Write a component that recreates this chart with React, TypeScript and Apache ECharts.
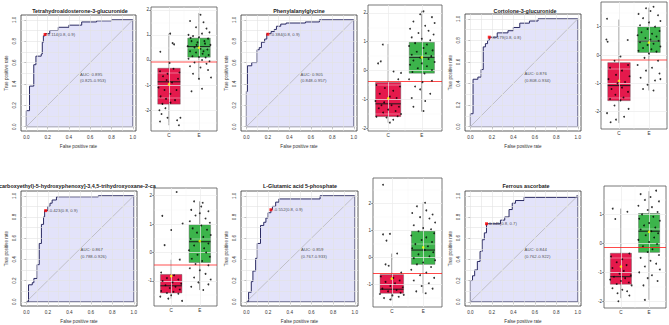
import React, { useEffect, useRef } from "react";
import * as echarts from "echarts";

// ---------------- DATA ----------------
const rocTitles = [
  "Tetrahydroaldosterone-3-glucuronide",
  "Phenylalanylglycine",
  "Cortolone-3-glucuronide",
  "carboxyethyl)-5-hydroxyphenoxy]-3,4,5-trihydroxyoxane-2-ca",
  "L-Glutamic acid 5-phosphate",
  "Ferrous ascorbate",
];

const roc1 = [[0,0],[0,0.15],[0.03,0.15],[0.03,0.38],[0.07,0.38],[0.07,0.58],[0.09,0.58],[0.09,0.66],[0.14,0.66],[0.14,0.68],[0.15,0.68],[0.15,0.79],[0.16,0.79],[0.16,0.85],[0.176,0.85],[0.176,0.87],[0.22,0.87],[0.22,0.9],[0.3,0.9],[0.3,0.93],[0.4,0.93],[0.4,0.95],[0.52,0.95],[0.52,0.98],[0.66,0.98],[0.66,0.99],[0.8,0.99],[0.8,1],[1,1]];
const roc2 = [[0,0],[0,0.33],[0.01,0.33],[0.01,0.57],[0.05,0.57],[0.05,0.6],[0.1,0.6],[0.1,0.72],[0.12,0.72],[0.12,0.74],[0.14,0.74],[0.14,0.79],[0.17,0.79],[0.17,0.82],[0.19,0.82],[0.19,0.87],[0.23,0.87],[0.23,0.89],[0.26,0.89],[0.26,0.91],[0.28,0.91],[0.28,0.94],[0.32,0.94],[0.32,0.96],[0.37,0.96],[0.37,0.97],[0.55,0.97],[0.55,0.98],[0.68,0.98],[0.68,1],[1,1]];
const roc3 = [[0,0],[0,0.12],[0.025,0.12],[0.025,0.44],[0.07,0.44],[0.07,0.46],[0.1,0.46],[0.1,0.53],[0.12,0.53],[0.12,0.74],[0.14,0.74],[0.14,0.77],[0.16,0.77],[0.16,0.8],[0.176,0.8],[0.176,0.83],[0.25,0.83],[0.25,0.87],[0.35,0.87],[0.35,0.89],[0.4,0.89],[0.4,0.92],[0.46,0.92],[0.46,0.96],[0.55,0.96],[0.55,0.98],[0.63,0.98],[0.63,1],[1,1]];
const roc4 = [[0,0],[0.02,0],[0.02,0.16],[0.055,0.16],[0.055,0.18],[0.07,0.18],[0.07,0.22],[0.1,0.22],[0.1,0.35],[0.12,0.35],[0.12,0.55],[0.14,0.55],[0.14,0.73],[0.16,0.73],[0.16,0.8],[0.17,0.8],[0.17,0.86],[0.2,0.86],[0.2,0.9],[0.22,0.9],[0.22,0.93],[0.24,0.93],[0.24,0.96],[0.28,0.96],[0.28,0.99],[0.67,0.99],[0.67,1],[1,1]];
const roc5 = [[0,0],[0.02,0],[0.02,0.09],[0.045,0.09],[0.045,0.19],[0.06,0.19],[0.06,0.29],[0.085,0.29],[0.085,0.41],[0.1,0.41],[0.1,0.55],[0.13,0.55],[0.13,0.72],[0.16,0.72],[0.16,0.75],[0.18,0.75],[0.18,0.79],[0.2,0.79],[0.2,0.84],[0.226,0.84],[0.226,0.87],[0.24,0.87],[0.24,0.9],[0.27,0.9],[0.27,0.94],[0.3,0.94],[0.3,0.97],[0.68,0.97],[0.68,1],[1,1]];
const roc6 = [[0,0],[0,0.2],[0.02,0.2],[0.02,0.245],[0.04,0.245],[0.04,0.3],[0.065,0.3],[0.065,0.38],[0.09,0.38],[0.09,0.475],[0.11,0.475],[0.11,0.585],[0.13,0.585],[0.13,0.65],[0.15,0.65],[0.15,0.736],[0.28,0.736],[0.28,0.77],[0.32,0.77],[0.32,0.8],[0.36,0.8],[0.36,0.87],[0.39,0.87],[0.39,0.93],[0.42,0.93],[0.42,0.955],[0.5,0.955],[0.5,0.985],[0.99,0.985],[0.99,1],[1,1]];
const rocCurves = [roc1, roc2, roc3, roc4, roc5, roc6];

const cutoffPoints = [[0.176,0.863],[0.2,0.865],[0.176,0.83],[0.18,0.86],[0.226,0.868],[0.15,0.736]];
const cutoffLabels = ["0.114(0.8, 0.9)","-0.384(0.8, 0.9)","-0.179(0.8, 0.8)","-0.423(0.8, 0.9)","-0.552(0.8, 0.9)","0.045(0.8, 0.7)"];
const aucValues = ["0.895","0.905","0.876","0.867","0.859","0.844"];
const aucCIs = ["0.825-0.953","0.848-0.957","0.808-0.934","0.788-0.926","0.767-0.933","0.762-0.922"];

const rocTickValues = [0, 0.2, 0.4, 0.6, 0.8, 1.0];
const rocGridValues = [0, 0.1, 0.2, 0.3, 0.4, 0.5, 0.6, 0.7, 0.8, 0.9, 1.0];

const catLabels = ["C", "E"];
// [low whisker, q1, median, q3, high whisker]
const boxC = [
  [-2.6, -1.76, -0.87, -0.33, 1.05],
  [-1.8, -1.59, -1.15, -0.41, 0.92],
  [-2.4, -1.61, -1.08, -0.27, 1.25],
  [-1.62, -1.42, -1.17, -0.77, -0.25],
  [-1.58, -1.32, -1.17, -0.63, 0.15],
  [-1.89, -1.41, -1.15, -0.34, 1.2],
];
const boxE = [
  [-0.8, 0.11, 0.53, 0.87, 1.87],
  [-1.42, -0.09, 0.46, 0.98, 2.07],
  [-1.25, 0.09, 0.49, 0.99, 1.67],
  [-1.32, -0.35, 0.38, 0.98, 1.8],
  [-1.32, -0.25, 0.28, 0.98, 2.04],
  [-1.95, -0.31, 0.42, 1.03, 1.8],
];
const meanC = [-0.97, -0.96, -0.91, -0.83, -0.78, -0.8];
const meanE = [0.49, 0.46, 0.44, 0.4, 0.38, 0.4];
const thresholds = [-0.09, -0.36, -0.18, -0.42, -0.57, -0.13];
const bpYTicks = [[-2,-1,0,1,2],[-2,-1,0,1,2],[-2,-1,0,1],[-1,0,1,2],[-1,0,1,2],[-2,-1,0,1]];
const bpYMinor = [[-2.5,-1.5,-0.5,0.5,1.5],[-1.5,-0.5,0.5,1.5],[-2.5,-1.5,-0.5,0.5,1.5],[-1.5,-0.5,0.5,1.5],[-1.5,-0.5,0.5,1.5,2.5],[-1.5,-0.5,0.5,1.5]];

// jitter points: [offset from category, value]
const jitC1 = [[-0.29,0.33],[0.04,1.05],[0.12,0.67],[0.17,0.62],[0.02,-0.12],[-0.3,-0.45],[-0.2,-0.65],[-0.08,-0.8],[0.1,-0.9],[0.3,-0.75],[-0.35,-1.1],[-0.15,-1.2],[0.05,-1.35],[0.25,-1.2],[-0.28,-1.45],[-0.1,-1.55],[0.2,-1.6],[0.35,-0.5],[-0.22,-1.75],[0.05,-1.7],[-0.32,-2.0],[-0.12,-1.92],[-0.25,-2.15],[-0.3,-2.45],[-0.05,-2.3],[0.27,-2.4],[0.33,-2.6],[0.38,-2.3],[0.15,-0.35],[-0.05,-0.55]];
const jitE1 = [[-0.3,1.55],[0.05,1.8],[0.15,1.5],[-0.1,1.3],[0.25,1.25],[0.35,1.1],[-0.35,1.0],[-0.2,0.95],[0.0,0.9],[0.1,1.05],[0.3,0.85],[-0.25,0.75],[-0.05,0.7],[0.2,0.65],[0.38,0.6],[-0.38,0.55],[-0.15,0.5],[0.05,0.45],[0.28,0.42],[-0.3,0.35],[-0.1,0.3],[0.12,0.25],[0.32,0.2],[-0.22,0.15],[0.0,0.12],[0.22,0.1],[-0.35,0.05],[0.1,0.0],[0.35,-0.05],[-0.15,-0.1],[0.25,-0.15],[-0.3,-0.25],[0.05,-0.3],[0.3,-0.4],[-0.2,-0.55],[0.0,-0.75],[0.4,-0.7],[-0.25,-1.25],[0.1,-1.15],[0.18,0.75],[-0.08,0.6],[0.15,0.35],[-0.28,0.88]];
const jitC2 = [[-0.16,0.9],[-0.22,0.32],[-0.3,0.25],[0.16,-0.03],[0.38,-0.08],[0.3,-0.3],[-0.35,-0.5],[-0.1,-0.6],[0.15,-0.7],[0.35,-0.55],[-0.25,-0.8],[0.05,-0.9],[0.25,-0.95],[-0.38,-1.05],[-0.12,-1.1],[0.1,-1.2],[0.32,-1.25],[-0.28,-1.3],[0.0,-1.35],[0.22,-1.4],[-0.15,-1.45],[0.38,-1.5],[-0.35,-1.6],[-0.05,-1.62],[0.15,-1.7],[0.05,-1.8],[0.28,-1.58],[-0.2,-1.2]];
const jitE2 = [[0.05,2.05],[-0.05,1.95],[0.3,1.85],[-0.25,1.7],[0.38,1.65],[0.1,1.55],[-0.35,1.45],[0.2,1.38],[-0.1,1.3],[0.35,1.25],[-0.3,1.15],[0.0,1.1],[0.25,1.05],[-0.2,0.95],[0.15,0.9],[-0.38,0.85],[0.05,0.78],[0.32,0.7],[-0.15,0.65],[0.12,0.6],[-0.3,0.55],[0.28,0.5],[-0.05,0.45],[0.2,0.4],[-0.25,0.35],[0.38,0.3],[0.0,0.25],[-0.35,0.2],[0.15,0.15],[-0.12,0.08],[0.3,0.02],[-0.28,-0.05],[0.08,-0.1],[-0.38,-0.3],[0.02,-0.4],[0.3,-0.35],[-0.2,-0.55],[-0.05,-0.65],[0.25,-0.8],[-0.3,-0.95],[0.1,-1.05],[-0.25,-1.25],[0.05,-1.4]];
const jitC3 = [[-0.4,1.28],[-0.42,0.55],[-0.38,0.47],[0.29,0.53],[0.05,-0.05],[-0.15,-0.2],[0.3,-0.35],[-0.3,-0.45],[0.1,-0.55],[-0.1,-0.7],[0.35,-0.75],[-0.35,-0.85],[0.2,-0.95],[-0.05,-1.0],[0.1,-1.15],[-0.25,-1.2],[0.3,-1.3],[-0.12,-1.4],[0.15,-1.5],[-0.3,-1.55],[0.05,-1.6],[-0.15,-1.78],[0.32,-1.9],[-0.4,-2.05],[0.17,-2.18],[-0.1,-2.28],[-0.28,-2.37]];
const jitE3 = [[-0.1,1.65],[0.15,1.7],[0.05,1.55],[-0.35,1.45],[0.3,1.4],[-0.2,1.3],[0.38,1.2],[0.0,1.15],[-0.3,1.05],[0.2,1.0],[-0.05,0.92],[0.35,0.85],[-0.25,0.8],[0.1,0.75],[-0.38,0.7],[0.25,0.65],[-0.12,0.6],[0.05,0.55],[0.32,0.5],[-0.3,0.45],[0.15,0.4],[-0.05,0.35],[0.38,0.3],[-0.2,0.25],[0.08,0.2],[-0.35,0.15],[0.25,0.12],[0.0,0.05],[-0.15,-0.1],[0.3,-0.2],[-0.38,-0.35],[0.1,-0.45],[-0.1,-0.55],[0.35,-0.65],[-0.28,-0.8],[0.2,-0.9],[-0.05,-1.05],[0.38,-0.85],[-0.2,-1.2],[0.15,-1.25]];
const jitC4 = [[0.19,2.13],[-0.31,1.29],[0.0,0.79],[0.4,1.02],[-0.23,0.26],[0.3,-0.25],[-0.35,-0.7],[0.1,-0.8],[-0.15,-0.9],[0.25,-0.95],[-0.3,-1.0],[0.05,-1.05],[0.35,-1.1],[-0.2,-1.15],[0.15,-1.2],[-0.05,-1.25],[0.3,-1.3],[-0.35,-1.35],[0.08,-1.38],[-0.15,-1.42],[0.25,-1.45],[-0.38,-1.55],[-0.1,-1.62],[0.38,-1.7],[0.0,-1.5]];
const jitE4 = [[-0.2,1.8],[0.1,1.75],[0.05,1.62],[-0.3,1.5],[0.3,1.45],[0.0,1.38],[-0.15,1.3],[0.2,1.2],[-0.35,1.1],[0.35,1.05],[0.05,0.95],[-0.25,0.85],[0.25,0.8],[-0.1,0.7],[0.38,0.62],[0.12,0.55],[-0.32,0.48],[0.0,0.4],[0.3,0.32],[-0.2,0.25],[0.15,0.15],[-0.38,0.08],[0.22,0.0],[-0.08,-0.08],[0.35,-0.15],[-0.28,-0.22],[0.08,-0.3],[-0.15,-0.4],[0.3,-0.45],[-0.35,-0.55],[0.0,-0.62],[0.2,-0.75],[-0.2,-0.88],[0.38,-0.95],[-0.05,-1.05],[0.3,-1.12],[-0.3,-1.2],[0.12,-1.32]];
const jitC5 = [[-0.28,2.7],[-0.28,0.86],[-0.06,0.88],[-0.17,0.63],[0.17,0.15],[-0.2,-0.25],[-0.1,-0.3],[0.3,-0.55],[-0.35,-0.7],[0.05,-0.75],[0.25,-0.85],[-0.2,-0.9],[0.1,-0.95],[-0.05,-1.05],[0.35,-1.1],[-0.3,-1.15],[0.15,-1.2],[-0.12,-1.25],[0.28,-1.3],[-0.38,-1.35],[0.02,-1.4],[0.22,-1.45],[-0.25,-1.5],[-0.05,-1.55],[0.38,-1.38]];
const jitE5 = [[0.06,2.03],[-0.2,1.9],[-0.35,1.65],[0.1,1.75],[0.3,1.6],[-0.1,1.5],[0.2,1.45],[0.38,1.3],[-0.3,1.2],[0.0,1.1],[0.25,1.05],[-0.15,0.98],[0.35,0.9],[-0.38,0.82],[0.1,0.75],[-0.05,0.65],[0.28,0.58],[-0.25,0.5],[0.15,0.42],[-0.35,0.35],[0.05,0.28],[0.32,0.2],[-0.15,0.12],[0.2,0.05],[-0.3,-0.02],[0.38,-0.1],[0.0,-0.18],[-0.2,-0.25],[0.25,-0.35],[-0.38,-0.45],[0.1,-0.55],[-0.1,-0.65],[0.35,-0.75],[-0.3,-0.85],[0.18,-0.95],[-0.05,-1.05],[0.3,-1.15],[-0.22,-1.25],[0.08,-1.32]];
const jitC6 = [[-0.29,1.2],[-0.2,0.84],[0.23,1.09],[0.3,-0.35],[-0.35,-0.45],[0.05,-0.55],[-0.15,-0.65],[0.2,-0.75],[-0.3,-0.85],[0.1,-0.95],[-0.05,-1.05],[0.35,-1.1],[-0.25,-1.15],[0.15,-1.2],[-0.38,-1.25],[0.0,-1.3],[0.28,-1.35],[-0.15,-1.4],[0.38,-1.45],[-0.3,-1.55],[0.05,-1.6],[-0.12,-1.72],[0.22,-1.65],[-0.09,-2.0],[0.3,-1.8]];
const jitE6 = [[-0.3,1.7],[0.25,1.82],[0.05,1.6],[-0.15,1.5],[0.35,1.45],[-0.38,1.3],[0.1,1.25],[-0.05,1.15],[0.3,1.08],[-0.25,1.0],[0.15,0.92],[-0.35,0.85],[0.38,0.78],[0.0,0.7],[-0.18,0.62],[0.22,0.55],[-0.3,0.48],[0.08,0.42],[0.32,0.35],[-0.12,0.28],[0.18,0.2],[-0.38,0.12],[0.0,0.05],[0.28,-0.02],[-0.22,-0.1],[0.12,-0.2],[-0.05,-0.3],[0.35,-0.4],[-0.3,-0.5],[0.05,-0.6],[0.25,-0.7],[-0.15,-0.8],[0.38,-0.9],[-0.35,-1.0],[0.1,-1.1],[-0.05,-1.2],[0.3,-1.3],[-0.2,-1.45],[-0.15,-1.95]];
const jitterC = [jitC1, jitC2, jitC3, jitC4, jitC5, jitC6];
const jitterE = [jitE1, jitE2, jitE3, jitE4, jitE5, jitE6];

// ---------------- LAYOUT / STYLE ----------------
const W = 669, H = 325;
const FONT = "Liberation Sans, Arial, sans-serif";
const rocFrames = [
  { left: 21, top: 15, width: 115, height: 116 },
  { left: 241, top: 15, width: 116, height: 116 },
  { left: 465, top: 14, width: 116, height: 117 },
  { left: 21, top: 191, width: 116, height: 116 },
  { left: 241, top: 191, width: 117, height: 116 },
  { left: 465, top: 191, width: 116, height: 116 },
];
const titleAnchors = [
  { x: 80, y: 10.5, align: "center" },
  { x: 299, y: 10.5, align: "center" },
  { x: 525, y: 10.5, align: "center" },
  { x: -1, y: 186, align: "left" },
  { x: 300, y: 186, align: "center" },
  { x: 526, y: 186, align: "center" },
];
const bpFrames = [
  { left: 151, top: 7, width: 66, height: 124 },
  { left: 368, top: 5, width: 74, height: 126 },
  { left: 601, top: 2, width: 66, height: 127 },
  { left: 154, top: 188, width: 63, height: 118 },
  { left: 373, top: 178, width: 69, height: 129 },
  { left: 604, top: 186, width: 62, height: 122 },
];
const bpYRange = [[-2.83, 2.11], [-2.09, 2.27], [-2.61, 1.87], [-1.88, 2.27], [-1.83, 2.95], [-2.23, 1.98]];
const thresholdStyles = [
  { color: "rgba(255,60,60,0.45)", width: 2 },
  { color: "#ff1a1a", width: 0.8 },
  { color: "rgba(255,60,60,0.45)", width: 2 },
  { color: "rgba(255,60,60,0.45)", width: 2 },
  { color: "#ff1a1a", width: 0.8 },
  { color: "#ff1a1a", width: 0.8 },
];
const boxColors = ["#e5194c", "#3cb44b"];
const BOX_HALF = 0.375;

function buildOption() {
  const grid: any[] = [];
  const xAxis: any[] = [];
  const yAxis: any[] = [];
  const series: any[] = [];
  const graphic: any[] = [];
  const lblStyle = { fontSize: 4.6, color: "#333", fontFamily: FONT };

  for (let i = 0; i < 6; i++) {
    // ---------- ROC ----------
    let g = grid.length;
    grid.push({ ...rocFrames[i], show: true, borderColor: "#333", borderWidth: 0.8, backgroundColor: "#fff" });
    xAxis.push({
      type: "value", gridIndex: g, min: -0.05, max: 1.03,
      axisLine: { show: false }, splitLine: { show: false },
      axisTick: { show: true, customValues: rocTickValues, length: 2, lineStyle: { color: "#333", width: 0.6 } },
      axisLabel: { customValues: rocTickValues, formatter: (v: number) => v.toFixed(1), margin: 4, ...lblStyle },
      name: "False positive rate", nameLocation: "middle", nameGap: 13, nameTextStyle: { ...lblStyle },
    });
    yAxis.push({
      type: "value", gridIndex: g, min: -0.04, max: 1.045,
      axisLine: { show: false }, splitLine: { show: false },
      axisTick: { show: true, customValues: rocTickValues, length: 2, lineStyle: { color: "#333", width: 0.6 } },
      axisLabel: { customValues: rocTickValues, formatter: (v: number) => v.toFixed(1), rotate: 90, margin: 4, ...lblStyle },
      name: "True positive rate", nameLocation: "middle", nameGap: 12, nameTextStyle: { ...lblStyle },
    });
    const ax = { xAxisIndex: g, yAxisIndex: g };
    series.push({
      type: "line", ...ax, data: [], silent: true,
      markLine: {
        silent: true, symbol: "none", animation: false, label: { show: false },
        lineStyle: { color: "#e3e3e3", width: 0.6, type: "solid" },
        data: [...rocGridValues.map((v) => ({ xAxis: v })), ...rocGridValues.map((v) => ({ yAxis: v }))],
      },
    });
    series.push({
      type: "line", ...ax, data: rocCurves[i], symbol: "none", silent: true, z: 3,
      lineStyle: { color: "#2b2b63", width: 1 },
      areaStyle: { color: "rgba(150,150,235,0.38)" },
    });
    series.push({
      type: "line", ...ax, data: [[0, 0], [1, 1]], symbol: "none", silent: true, z: 4,
      lineStyle: { color: "#b0b0b0", width: 0.7 },
    });
    series.push({
      type: "line", ...ax, data: [[0, 0], [1, 0], [1, 1]], symbol: "none", silent: true, z: 4,
      lineStyle: { color: "#55557a", width: 0.9 },
    });
    series.push({
      type: "scatter", ...ax, data: [cutoffPoints[i]], symbol: "rect", symbolSize: 3, silent: true, z: 6,
      itemStyle: { color: "#ff0000" },
      label: { show: true, position: "right", distance: 1, formatter: cutoffLabels[i], fontSize: 4.3, color: "#222", fontFamily: FONT },
    });
    series.push({
      type: "scatter", ...ax, data: [[0.5, 0.46]], symbolSize: 1, silent: true, z: 6,
      itemStyle: { color: "rgba(0,0,0,0)" },
      label: {
        show: true, position: "right", distance: 0, align: "left",
        formatter: `AUC: ${aucValues[i]}\n(${aucCIs[i]})`, fontSize: 4.3, lineHeight: 6.2, color: "#222", fontFamily: FONT,
      },
    });
    const ta = titleAnchors[i];
    graphic.push({
      type: "text", x: ta.x, y: ta.y, silent: true,
      style: { text: rocTitles[i], align: ta.align, verticalAlign: "middle", fontSize: 5.4, fontWeight: "bold", fontFamily: FONT, fill: "#222" },
    });

    // ---------- BOXPLOT ----------
    g = grid.length;
    grid.push({ ...bpFrames[i], show: true, borderColor: "#555", borderWidth: 0.8, backgroundColor: "#fff" });
    xAxis.push({
      type: "value", gridIndex: g, min: 0.4, max: 2.6,
      axisLine: { show: false }, splitLine: { show: false },
      axisTick: { show: true, customValues: [1, 2], length: 2, lineStyle: { color: "#444", width: 0.5 } },
      axisLabel: { customValues: [1, 2], formatter: (v: number) => catLabels[Math.round(v) - 1], margin: 2, ...lblStyle },
    });
    yAxis.push({
      type: "value", gridIndex: g, min: bpYRange[i][0], max: bpYRange[i][1],
      axisLine: { show: false }, splitLine: { show: false },
      axisTick: { show: true, customValues: bpYTicks[i], length: 2, lineStyle: { color: "#444", width: 0.5 } },
      axisLabel: { customValues: bpYTicks[i], formatter: (v: number) => String(v), margin: 2, ...lblStyle },
    });
    const bx = { xAxisIndex: g, yAxisIndex: g };
    series.push({
      type: "line", ...bx, data: [], silent: true,
      markLine: {
        silent: true, symbol: "none", animation: false, label: { show: false },
        lineStyle: { color: "#ebebeb", width: 0.7, type: "solid" },
        data: [
          { xAxis: 1 }, { xAxis: 2 },
          ...bpYTicks[i].map((v) => ({ yAxis: v })),
          { xAxis: 1.5, lineStyle: { color: "#f2f2f2", width: 0.4, type: "solid" } },
          ...bpYMinor[i].map((v) => ({ yAxis: v, lineStyle: { color: "#f2f2f2", width: 0.4, type: "solid" } })),
        ],
      },
    });
    series.push({
      type: "custom", ...bx, silent: true, z: 3,
      encode: { x: 0, y: [1, 2, 3, 4, 5] },
      data: [[1, ...boxC[i]], [2, ...boxE[i]]],
      renderItem: (params: any, api: any) => {
        const x = api.value(0);
        const lo = api.coord([x, api.value(1)]);
        const q1 = api.coord([x, api.value(2)]);
        const md = api.coord([x, api.value(3)]);
        const q3 = api.coord([x, api.value(4)]);
        const hi = api.coord([x, api.value(5)]);
        const l = api.coord([x - BOX_HALF, api.value(3)])[0];
        const r = api.coord([x + BOX_HALF, api.value(3)])[0];
        return {
          type: "group",
          children: [
            { type: "line", shape: { x1: lo[0], y1: lo[1], x2: hi[0], y2: hi[1] }, style: { stroke: "#7a7a7a", lineWidth: 0.9 } },
            { type: "rect", shape: { x: l, y: q3[1], width: r - l, height: q1[1] - q3[1] }, style: { fill: boxColors[params.dataIndex], stroke: "#555", lineWidth: 0.4 } },
            { type: "line", shape: { x1: l, y1: md[1], x2: r, y2: md[1] }, style: { stroke: "#1a1a1a", lineWidth: 1 } },
          ],
        };
      },
    });
    series.push({
      type: "line", ...bx, data: [], silent: true, z: 4,
      markLine: {
        silent: true, symbol: "none", animation: false, label: { show: false },
        lineStyle: { color: thresholdStyles[i].color, width: thresholdStyles[i].width, type: "solid" },
        data: [{ yAxis: thresholds[i] }],
      },
    });
    series.push({
      type: "scatter", ...bx, silent: true, z: 5, symbolSize: 1.8,
      itemStyle: { color: "#000" },
      data: jitterC[i].map(([o, v]) => [1 + o, v]),
    });
    series.push({
      type: "scatter", ...bx, silent: true, z: 5, symbolSize: 1.8,
      itemStyle: { color: "#000" },
      data: jitterE[i].map(([o, v]) => [2 + o, v]),
    });
    series.push({
      type: "scatter", ...bx, silent: true, z: 6, symbolSize: 2.6,
      itemStyle: { color: "#ffff00" },
      data: [[1, meanC[i]], [2, meanE[i]]],
    });
  }

  return {
    animation: false,
    backgroundColor: "#ffffff",
    textStyle: { fontFamily: FONT },
    grid, xAxis, yAxis, series, graphic,
  };
}

export default function App() {
  const ref = useRef<HTMLDivElement>(null);
  useEffect(() => {
    if (!ref.current) return;
    const chart = echarts.init(ref.current, undefined, { renderer: "svg", width: W, height: H });
    chart.setOption(buildOption() as any);
    return () => chart.dispose();
  }, []);
  return <div ref={ref} style={{ position: "fixed", left: 0, top: 0, width: W, height: H, background: "#fff" }} />;
}
